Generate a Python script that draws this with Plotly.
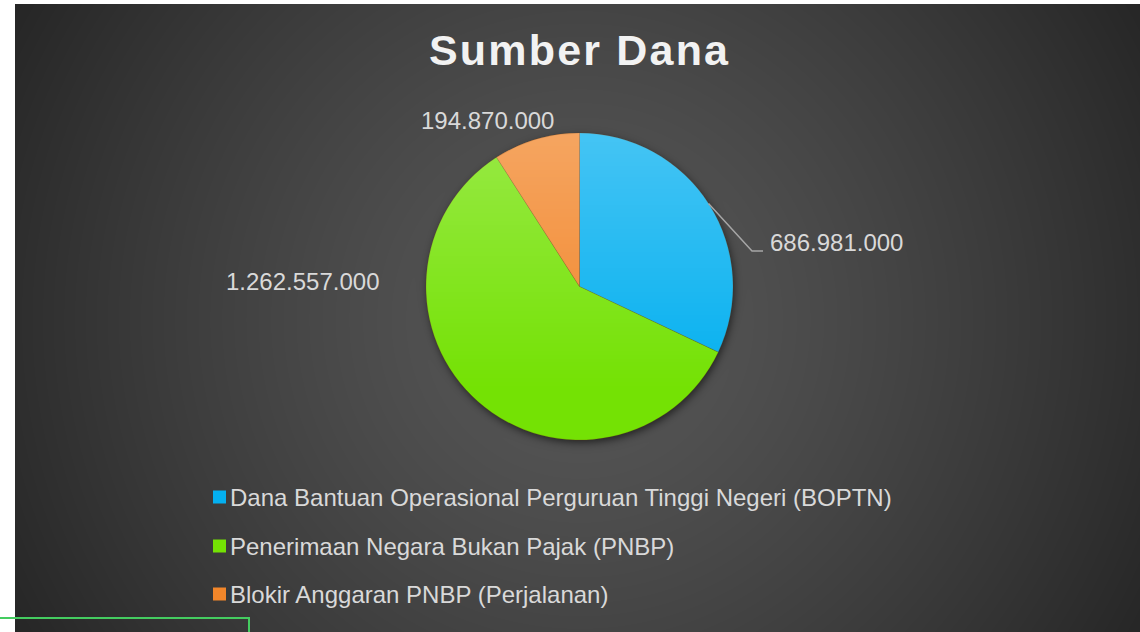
import base64, zlib, struct
import numpy as np
import plotly.graph_objects as go

# ---------------- data ----------------
categories = [
    "Dana Bantuan Operasional Perguruan Tinggi Negeri (BOPTN)",
    "Penerimaan Negara Bukan Pajak (PNBP)",
    "Blokir Anggaran PNBP (Perjalanan)",
]
values = [686981000, 1262557000, 194870000]
value_labels = [f"{v:,}".replace(",", ".") for v in values]
title_text = "Sumber Dana"

# ---------------- style ----------------
colors = ["#04b0f0", "#74e204", "#f2862a"]
W, H = 1140, 632
FONT = "Liberation Sans, Arial, sans-serif"


def fx(x):
    return x / W


def fy(y):
    return 1 - y / H


def png_data_uri(arr):
    if arr.ndim == 2:
        arr = arr[:, :, None]
    h, w, ch = arr.shape
    ctype = {1: 0, 3: 2, 4: 6}[ch]
    a = arr.astype(np.int16)
    sub = a.copy()
    sub[:, 1:, :] = (a[:, 1:, :] - a[:, :-1, :]) % 256
    rows = sub.reshape(h, w * ch).astype(np.uint8)
    raw = np.concatenate([np.ones((h, 1), np.uint8), rows], axis=1).tobytes()

    def chunk(t, d):
        return struct.pack(">I", len(d)) + t + d + struct.pack(">I", zlib.crc32(t + d) & 0xFFFFFFFF)

    png = (b"\x89PNG\r\n\x1a\n"
           + chunk(b"IHDR", struct.pack(">IIBBBBB", w, h, 8, ctype, 0, 0, 0))
           + chunk(b"IDAT", zlib.compress(raw, 9))
           + chunk(b"IEND", b""))
    return "data:image/png;base64," + base64.b64encode(png).decode()


# pie geometry (pixels)
PCX, PCY, PR = 579.5, 286.5, 153.5

# background: radial dark gradient with soft pie shadow
BX0, BY0 = 15, 4
bw, bh = W - BX0, H - BY0
X = np.arange(bw)[None, :] + BX0 + 0.5
Y = np.arange(bh)[:, None] + BY0 + 0.5
d = np.sqrt((X - 580) ** 2 + (Y - 320) ** 2)
t = np.clip(d / 650, 0, 1)
bg = 88 - 50 * t ** 1.3
ds = np.sqrt((X - (PCX + 1.5)) ** 2 + (Y - (PCY + 3)) ** 2)
shadow = 0.55 / (1 + np.exp((ds - PR) / 2.5))
bg = bg * (1 - shadow)
bg_uri = png_data_uri(np.clip(bg, 0, 255).astype(np.uint8))

# pie shading overlay (lighter towards the top)
n = 307
yy, xx = np.mgrid[0:n, 0:n] + 0.5
dd = np.sqrt((xx - n / 2) ** 2 + (yy - n / 2) ** 2)
mask = np.clip(n / 2 - dd + 0.5, 0, 1)
tt = yy / n
white_a = 0.26 * np.clip(1 - tt / 0.85, 0, 1)
ov = np.zeros((n, n, 4))
ov[..., 0:3] = 255
ov[..., 3] = white_a * mask * 255
ov_uri = png_data_uri(np.clip(ov, 0, 255).astype(np.uint8))

fig = go.Figure()
fig.add_trace(go.Pie(
    labels=categories,
    values=values,
    sort=False,
    direction="clockwise",
    rotation=0,
    textinfo="none",
    hoverinfo="label+value+percent",
    marker=dict(colors=colors, line=dict(color="rgba(120,60,0,0.35)", width=0.6)),
    domain=dict(x=[fx(PCX - PR), fx(PCX + PR)], y=[fy(PCY + PR), fy(PCY - PR)]),
    showlegend=False,
))

annotations = []
shapes = []

# title (slightly letter-spaced using small hair spaces)
gap = '<span style="font-size:26px">\u200a</span>'
spaced_title = gap.join(title_text)
annotations.append(dict(
    text=spaced_title, x=fx(579), y=fy(50), xref="paper", yref="paper",
    showarrow=False, xanchor="center", yanchor="middle",
    font=dict(family=FONT, size=43, color="#f2f2f2", weight="bold"),
))

# data labels
label_pos = [(768, 242.5, "left"), (381, 282, "right"), (556, 120.5, "right")]
for txt, (lx, ly, anc) in zip(value_labels, label_pos):
    annotations.append(dict(
        text=txt, x=fx(lx), y=fy(ly), xref="paper", yref="paper",
        showarrow=False, xanchor=anc, yanchor="middle",
        font=dict(family=FONT, size=24, color="#d9d9d9"),
    ))

# leader line for first label
shapes.append(dict(
    type="path", xref="paper", yref="paper",
    path=f"M {fx(708.5)},{fy(203.5)} L {fx(752)},{fy(251)} L {fx(763)},{fy(251)}",
    line=dict(color="#a6a6a6", width=1.5),
))

# manual legend
rows_y = [497, 546, 594]
for cat, col, ry in zip(categories, colors, rows_y):
    shapes.append(dict(
        type="rect", xref="paper", yref="paper",
        x0=fx(213), x1=fx(226), y0=fy(ry + 6.5), y1=fy(ry - 6.5),
        fillcolor=col, line=dict(width=0),
    ))
    annotations.append(dict(
        text=cat, x=fx(228), y=fy(ry), xref="paper", yref="paper",
        showarrow=False, xanchor="left", yanchor="middle",
        font=dict(family=FONT, size=24, color="#d9d9d9"),
    ))

# green outline fragment at bottom-left
shapes.append(dict(
    type="path", xref="paper", yref="paper",
    path=f"M {fx(0)},{fy(618)} L {fx(249)},{fy(618)} L {fx(249)},{fy(640)}",
    line=dict(color="#44cc60", width=2),
))

fig.update_layout(
    width=W, height=H,
    margin=dict(l=0, r=0, t=0, b=0),
    paper_bgcolor="white",
    plot_bgcolor="white",
    showlegend=False,
    annotations=annotations,
    shapes=shapes,
    images=[
        dict(source=bg_uri, xref="paper", yref="paper", x=fx(BX0), y=fy(BY0),
             sizex=bw / W, sizey=bh / H, xanchor="left", yanchor="top",
             sizing="stretch", layer="below"),
        dict(source=ov_uri, xref="paper", yref="paper", x=fx(PCX - PR), y=fy(PCY - PR),
             sizex=2 * PR / W, sizey=2 * PR / H, xanchor="left", yanchor="top",
             sizing="stretch", layer="above"),
    ],
)

fig.write_html("out.html", config={"displayModeBar": False},
               post_script="document.body.style.margin='0';")
